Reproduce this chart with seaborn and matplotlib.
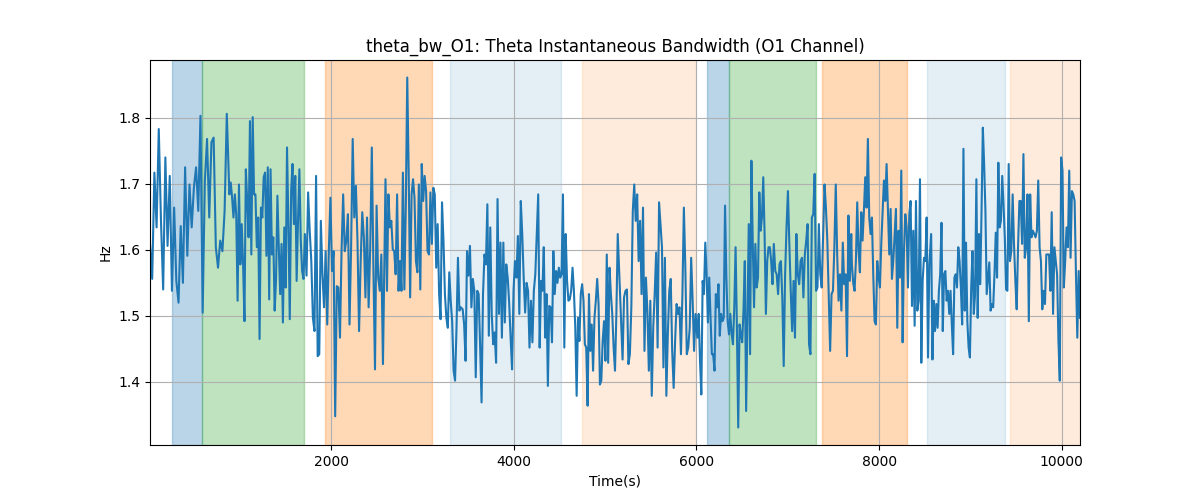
import numpy as np
import pandas as pd
import matplotlib
matplotlib.use("Agg")
import matplotlib.pyplot as plt
import seaborn as sns

# Bandwidth values (Hz), in 12 stretches of time.
# Each stretch: (first time, last time) and the values inside it.
stretch_t0 = [16, 885, 1730, 2595, 3440, 4298, 5175, 6010, 6863, 7702, 8570, 9433]
stretch_t1 = [857, 1712, 2567, 3420, 4283, 5138, 5990, 6847, 7695, 8550, 9419, 10200]

bw_1 = [1.609, 1.556, 1.717, 1.634, 1.783, 1.644, 1.540, 1.740, 1.606, 1.712,
        1.538, 1.664, 1.553, 1.520, 1.636, 1.550, 1.725, 1.591, 1.699, 1.634,
        1.694, 1.725, 1.659, 1.803, 1.505, 1.705, 1.768, 1.649, 1.763, 1.770,
        1.604, 1.573, 1.614, 1.598, 1.659, 1.806]
bw_2 = [1.684, 1.702, 1.679, 1.649, 1.684, 1.654, 1.523, 1.699, 1.578, 1.639,
        1.578, 1.492, 1.722, 1.674, 1.619, 1.795, 1.593, 1.801, 1.684, 1.684,
        1.604, 1.649, 1.465, 1.664, 1.649, 1.710, 1.717, 1.591, 1.725, 1.525,
        1.722, 1.593, 1.619, 1.508, 1.556, 1.682, 1.604, 1.533, 1.609, 1.490,
        1.634, 1.543, 1.755, 1.639, 1.495, 1.689, 1.730, 1.639, 1.712, 1.553,
        1.644, 1.722, 1.614, 1.568, 1.556, 1.624]
bw_3 = [1.561, 1.687, 1.629, 1.583, 1.497, 1.477, 1.712, 1.439, 1.442,
        1.644, 1.563, 1.513, 1.598, 1.487, 1.598, 1.679, 1.568, 1.598, 1.348,
        1.545, 1.543, 1.467, 1.598, 1.684, 1.598, 1.614, 1.654, 1.487, 1.604,
        1.768, 1.649, 1.697, 1.614, 1.477, 1.583, 1.657, 1.619, 1.528, 1.649,
        1.513, 1.604, 1.755, 1.573, 1.419, 1.667, 1.558, 1.538, 1.593, 1.427]
bw_4 = [1.707, 1.538, 1.684, 1.634, 1.644, 1.601, 1.598, 1.563, 1.684, 1.538,
        1.583, 1.538, 1.717, 1.540, 1.664, 1.861, 1.715, 1.528, 1.684, 1.707,
        1.679, 1.583, 1.566, 1.699, 1.540, 1.730, 1.674, 1.712, 1.689, 1.598,
        1.593, 1.687, 1.609, 1.694, 1.684, 1.573, 1.639, 1.533, 1.495, 1.672,
        1.614, 1.533, 1.497, 1.482, 1.566, 1.523, 1.492, 1.417, 1.402, 1.482,
        1.588, 1.508, 1.513]
bw_5 = [1.510, 1.487, 1.432, 1.598, 1.561, 1.606, 1.513, 1.556, 1.538, 1.407,
        1.538, 1.533, 1.455, 1.369, 1.533, 1.593, 1.578, 1.669, 1.470, 1.634,
        1.503, 1.457, 1.475, 1.429, 1.677, 1.503, 1.611, 1.467, 1.611, 1.490,
        1.578, 1.558, 1.520, 1.467, 1.419, 1.538, 1.583, 1.558, 1.621, 1.503,
        1.674, 1.624, 1.558, 1.505, 1.550, 1.538, 1.452, 1.523, 1.460, 1.538,
        1.563, 1.624, 1.684, 1.452]
bw_6 = [1.553, 1.538, 1.604, 1.467, 1.533, 1.394, 1.515, 1.513, 1.460, 1.598,
        1.533, 1.568, 1.550, 1.573, 1.558, 1.563, 1.684, 1.452, 1.624, 1.553,
        1.523, 1.525, 1.538, 1.573, 1.538, 1.482, 1.379, 1.497, 1.462, 1.533,
        1.548, 1.523, 1.457, 1.452, 1.364, 1.533, 1.447, 1.487, 1.417, 1.497,
        1.523, 1.556, 1.518, 1.396, 1.402, 1.462, 1.492, 1.432, 1.593, 1.429,
        1.573, 1.533, 1.503, 1.452, 1.417, 1.503, 1.624]
bw_7 = [1.492, 1.434, 1.528, 1.538, 1.540, 1.427, 1.442, 1.513, 1.659, 1.699,
        1.644, 1.684, 1.583, 1.644, 1.533, 1.664, 1.447, 1.558, 1.508, 1.417,
        1.523, 1.379, 1.482, 1.533, 1.596, 1.452, 1.672, 1.639, 1.604, 1.422,
        1.588, 1.379, 1.472, 1.538, 1.556, 1.447, 1.391, 1.462, 1.518, 1.503,
        1.513, 1.442, 1.533, 1.664, 1.573, 1.442, 1.452, 1.482, 1.588, 1.523,
        1.447, 1.503]
bw_8 = [1.467, 1.503, 1.432, 1.381, 1.553, 1.533, 1.611, 1.563, 1.490, 1.558,
        1.497, 1.442, 1.442, 1.417, 1.533, 1.513, 1.548, 1.470, 1.503, 1.492,
        1.497, 1.667, 1.558, 1.492, 1.472, 1.503, 1.472, 1.457, 1.513, 1.604,
        1.482, 1.331, 1.487, 1.472, 1.460, 1.508, 1.583, 1.356, 1.492, 1.639,
        1.442, 1.735, 1.614, 1.513, 1.609, 1.543, 1.558, 1.687, 1.629, 1.649,
        1.710, 1.624, 1.503, 1.583, 1.604, 1.604, 1.583, 1.548, 1.609]
bw_9 = [1.568, 1.563, 1.533, 1.578, 1.583, 1.528, 1.424, 1.563, 1.634, 1.689,
        1.609, 1.538, 1.477, 1.553, 1.467, 1.624, 1.563, 1.548, 1.583, 1.588,
        1.528, 1.593, 1.614, 1.639, 1.457, 1.442, 1.649, 1.654, 1.715, 1.538,
        1.543, 1.639, 1.563, 1.543, 1.619, 1.699, 1.664, 1.614, 1.533, 1.447,
        1.533, 1.538, 1.604, 1.699, 1.593, 1.523, 1.563, 1.508, 1.611, 1.548,
        1.563, 1.439, 1.652, 1.553, 1.624]
bw_10 = [1.578, 1.550, 1.538, 1.583, 1.672, 1.598, 1.566, 1.657, 1.614, 1.659,
         1.710, 1.664, 1.768, 1.649, 1.624, 1.649, 1.563, 1.492, 1.487, 1.583,
         1.558, 1.543, 1.609, 1.659, 1.705, 1.674, 1.730, 1.664, 1.593, 1.662,
         1.556, 1.583, 1.624, 1.662, 1.482, 1.629, 1.558, 1.720, 1.460, 1.598,
         1.654, 1.634, 1.543, 1.654, 1.674, 1.515, 1.629, 1.485, 1.674, 1.508,
         1.523, 1.707, 1.429, 1.553, 1.588, 1.583, 1.649, 1.437, 1.578]
bw_11 = [1.624, 1.434, 1.523, 1.477, 1.518, 1.482, 1.538, 1.563, 1.641, 1.477,
         1.563, 1.568, 1.523, 1.538, 1.503, 1.538, 1.487, 1.442, 1.558, 1.563,
         1.543, 1.604, 1.583, 1.543, 1.487, 1.753, 1.508, 1.611, 1.492, 1.452,
         1.437, 1.543, 1.598, 1.503, 1.533, 1.707, 1.497, 1.624, 1.548, 1.659,
         1.785, 1.730, 1.659, 1.533, 1.558, 1.581, 1.508, 1.518, 1.513, 1.563,
         1.626, 1.558, 1.732, 1.634, 1.644, 1.712, 1.669, 1.619, 1.540, 1.538,
         1.730]
bw_12 = [1.583, 1.598, 1.684, 1.609, 1.553, 1.510, 1.604, 1.674, 1.674, 1.609,
         1.745, 1.588, 1.604, 1.684, 1.492, 1.684, 1.619, 1.629, 1.624, 1.619,
         1.629, 1.705, 1.604, 1.583, 1.510, 1.538, 1.518, 1.593, 1.593, 1.593,
         1.538, 1.657, 1.503, 1.604, 1.583, 1.563, 1.462, 1.402, 1.740, 1.720,
         1.543, 1.583, 1.634, 1.604, 1.720, 1.588, 1.689, 1.684, 1.674, 1.563,
         1.467, 1.568, 1.497]

stretches = [bw_1, bw_2, bw_3, bw_4, bw_5, bw_6, bw_7, bw_8, bw_9, bw_10, bw_11, bw_12]

# Shaded segments
seg_start = [258, 586, 1934, 3304, 4751, 6110, 6351, 7370, 8520, 9430]
seg_end = [586, 1704, 3107, 4521, 6000, 6351, 7304, 8301, 9375, 10260]
seg_color = ["tab:blue", "tab:green", "tab:orange", "tab:blue", "tab:orange",
             "tab:blue", "tab:green", "tab:orange", "tab:blue", "tab:orange"]
seg_alpha = [0.3, 0.3, 0.3, 0.12, 0.15, 0.3, 0.3, 0.3, 0.12, 0.15]

times, vals = [], []
for t0, t1, v in zip(stretch_t0, stretch_t1, stretches):
    times.extend(np.linspace(t0, t1, len(v)))
    vals.extend(v)
df = pd.DataFrame({"Time": times, "Hz": vals})

fig, ax = plt.subplots(figsize=(12, 5), dpi=100)

for s, e, c, a in zip(seg_start, seg_end, seg_color, seg_alpha):
    ax.axvspan(s, e, color=c, alpha=a, lw=1)

sns.lineplot(data=df, x="Time", y="Hz", ax=ax, color="tab:blue", linewidth=1.5)

ax.set_xlim(df["Time"].min(), df["Time"].max())
ax.grid(True)
ax.set_title("theta_bw_O1: Theta Instantaneous Bandwidth (O1 Channel)")
ax.set_xlabel("Time(s)")
ax.set_ylabel("Hz")

fig.savefig("out.png", dpi=100)
